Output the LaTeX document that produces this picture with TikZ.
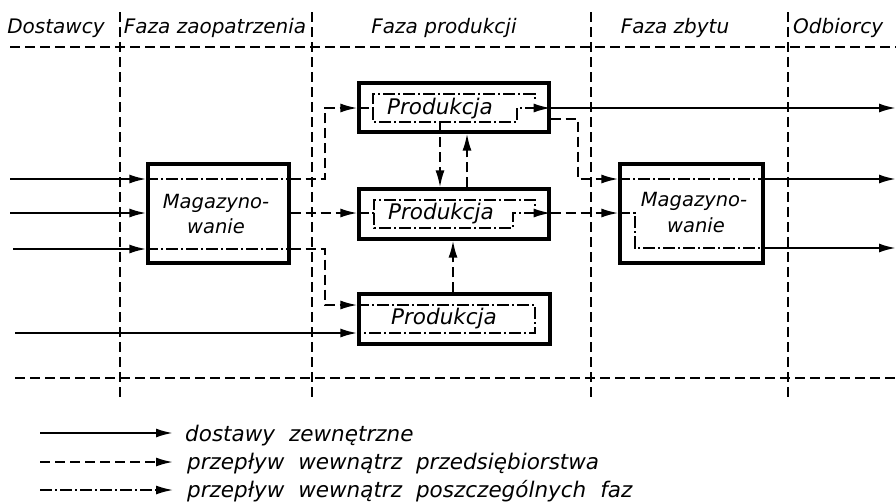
\documentclass[tikz,border=0pt]{standalone}
\usepackage{fontspec}
\setmainfont{DejaVu Sans}
\usetikzlibrary{arrows.meta}
\newcommand\legfont{\itshape\fontsize{21.5}{24}\selectfont\spaceskip 14pt\relax}
\tikzset{
  txt/.style={font=\itshape\fontsize{20}{23}\selectfont, inner sep=0pt},
  mtxt/.style={font=\itshape\fontsize{19.5}{23}\selectfont, inner sep=0pt},
  boxtxt/.style={font=\itshape\fontsize{21.5}{24}\selectfont, inner sep=0pt},
  legtxt/.style={font=\legfont, inner sep=0pt},
  blk/.style={draw, line width=3.2pt, inner sep=0pt},
  tip/.style={-{Latex[length=17pt,width=9pt]}},
  ext/.style={line width=2.2pt},
  intr/.style={line width=2pt, dash pattern=on 10pt off 5pt},
  phase/.style={line width=1.7pt, dash pattern=on 12pt off 3pt on 2pt off 3pt},
  divider/.style={line width=1.6pt, dash pattern=on 10pt off 5pt},
}
\begin{document}
\begin{tikzpicture}[x=1pt,y=-1pt]
\useasboundingbox (0,0) rectangle (896,501);
% grid
\draw[divider] (10,47) -- (896,47);
\draw[divider] (15,378) -- (896,378);
\foreach \xx in {120,312,591,788} \draw[divider] (\xx,12) -- (\xx,398);
% header
\node[txt, anchor=base] (h1) at (56,33) {Dostawcy};
\node[txt, anchor=base] (h2) at (215,33) {Faza zaopatrzenia};
\node[txt, anchor=base] (h3) at (444,33) {Faza produkcji};
\node[txt, anchor=base] (h4) at (675,33) {Faza zbytu};
\node[txt, anchor=base west] (h5) at (793,33) {Odbiorcy};
% boxes
\node[blk, minimum width=141pt, minimum height=99pt] (M1) at (218.5,213.5) {};
\node[blk, minimum width=143pt, minimum height=99pt] (M2) at (691.5,213.5) {};
\node[blk, minimum width=190pt, minimum height=49pt] (P1) at (454,107.5) {};
\node[blk, minimum width=190pt, minimum height=50pt] (P2) at (454,214) {};
\node[blk, minimum width=191pt, minimum height=50pt] (P3) at (454.5,319) {};
% box texts
\node[mtxt, anchor=base] (m1a) at (216,208) {Magazyno-};
\node[mtxt, anchor=base] (m1b) at (216,233) {wanie};
\node[mtxt, anchor=base] (m2a) at (694,206) {Magazyno-};
\node[mtxt, anchor=base] (m2b) at (696,232) {wanie};
\node[boxtxt, anchor=base] (p1t) at (440,114) {Produkcja};
\node[boxtxt, anchor=base] (p2t) at (441,219) {Produkcja};
\node[boxtxt, anchor=base] (p3t) at (444,324) {Produkcja};
% coordinates
\coordinate (inA) at (10,179);
\coordinate (inB) at (10,213);
\coordinate (inC) at (13,249);
\coordinate (inD) at (15,333);
\coordinate (outA) at (896,108);
\coordinate (outB) at (896,179);
\coordinate (outC) at (896,248);
% external inputs
\draw[ext,tip] (inA) -- (inA -| M1.west);
\draw[ext,tip] (inB) -- (inB -| M1.west);
\draw[ext,tip] (inC) -- (inC -| M1.west);
\draw[ext,tip] (inD) -- (inD -| P3.west);
% M1 internal
\draw[phase] (inA -| M1.west) -- (inA -| M1.east);
\draw[phase] (inC -| M1.west) -- (inC -| M1.east);
% M1 -> P1, P2, P3
\draw[intr,tip] (inA -| M1.east) -- (325,179) -- (325,108) -- (P1.west |- 0,108);
\draw[intr,tip] (inB -| M1.east) -- (P2.west |- inB);
\draw[intr,tip] (inC -| M1.east) -- (325,249) -- (325,305) -- (P3.west |- 0,305);
% P1 internal
\draw[phase] (P1.west |- 0,108) -- (373,108) -- (373,94) -- (535,94) -- (535,101);
\draw[phase,tip] (373,108) -- (373,122) -- (517,122) -- (517,108) -- (P1.east |- 0,108);
\draw[ext,tip] (P1.east |- 0,108) -- (outA);
% P2 internal
\draw[phase] (P2.west |- 0,213) -- (374,213) -- (374,200) -- (535,200) -- (535,206);
\draw[phase,tip] (374,213) -- (374,228) -- (513,228) -- (513,213) -- (P2.east |- 0,213);
% P3 internal
\draw[phase] (P3.west |- 0,305) -- (535,305) -- (535,333) -- (P3.west |- inD);
% vertical links
\draw[intr,tip] (440,122) -- (440,0 |- P2.north);
\draw[intr,tip] (467,0 |- P2.north) -- (467,0 |- P1.south);
\draw[intr,tip] (453,0 |- P3.north) -- (453,0 |- P2.south);
% P -> M2
\draw[intr,tip] (P1.east |- 0,119) -- (578,119) -- (578,179) -- (M2.west |- outB);
\draw[intr,tip] (P2.east |- 0,213) -- (M2.west |- 0,213);
% M2 internal
\draw[phase] (M2.west |- outB) -- (M2.east |- outB);
\draw[phase] (M2.west |- 0,213) -- (635,213) -- (635,248) -- (M2.east |- outC);
\draw[ext,tip] (M2.east |- outB) -- (outB);
\draw[ext,tip] (M2.east |- outC) -- (outC);
% legend
\coordinate (l1) at (40,433); \coordinate (l1e) at (173,433);
\coordinate (l2) at (40,462); \coordinate (l2e) at (173,462);
\coordinate (l3) at (40,490); \coordinate (l3e) at (173,490);
\draw[ext,tip] (l1) -- (l1e);
\draw[intr,tip] (l2) -- (l2e);
\draw[phase,tip] (l3) -- (l3e);
\node[legtxt, anchor=base west] (t1) at (185,441) {dostawy zewnętrzne};
\node[legtxt, anchor=base west] (t2) at (187,469) {przepływ wewnątrz przedsiębiorstwa};
\node[legtxt, anchor=base west] (t3) at (187,497) {przepływ wewnątrz poszczególnych faz};
\end{tikzpicture}
\end{document}
